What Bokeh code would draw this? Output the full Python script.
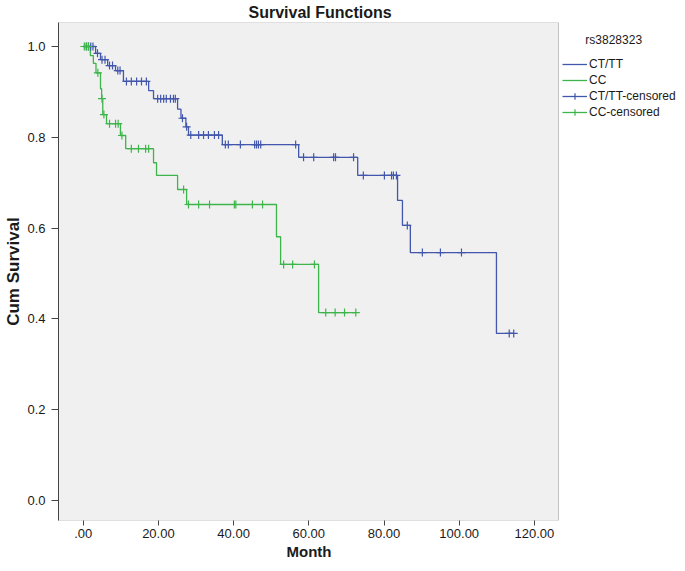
from bokeh.plotting import figure
from bokeh.models import (Range1d, FixedTicker, Legend, LegendItem,
                          BoxAnnotation, Title)
from bokeh.embed import file_html
from bokeh.resources import INLINE

# ---------------- data ----------------
blue_t = [0, 3.3, 4.6, 6.5, 8.6, 10.7, 17.4, 18.7, 25.1, 26.0, 27.3, 28.0,
          37.0, 57.3, 73.0, 83.6, 84.9, 87.0, 109.9, 114.5]
blue_s = [1.0, 0.985, 0.971, 0.958, 0.947, 0.923, 0.903, 0.885, 0.862, 0.842,
          0.823, 0.805, 0.784, 0.756, 0.716, 0.661, 0.606, 0.546, 0.368, 0.368]

blue_cens_t = [0.8, 1.4, 2.0, 2.6, 3.8, 5.0, 5.8, 7.0, 7.8, 9.2, 9.8,
               11.5, 12.8, 14.2, 15.5, 16.8,
               19.8, 20.6, 21.4, 22.1, 23.2, 24.0, 24.5,
               26.4, 27.5,
               28.6, 30.7, 32.0, 33.3, 34.9, 36.0,
               37.8, 38.6, 41.8, 45.6, 46.1, 46.6, 47.2, 56.5,
               58.6, 61.3, 66.6, 67.1, 71.9,
               74.5, 80.1, 82.0, 82.5, 83.3,
               86.2, 90.2, 95.0, 100.6, 113.3, 114.5]
blue_cens_s = [1.0, 1.0, 1.0, 1.0, 0.985, 0.971, 0.971, 0.958, 0.958, 0.947, 0.947,
               0.923, 0.923, 0.923, 0.923, 0.923,
               0.885, 0.885, 0.885, 0.885, 0.885, 0.885, 0.885,
               0.842, 0.823,
               0.805, 0.805, 0.805, 0.805, 0.805, 0.805,
               0.784, 0.784, 0.784, 0.784, 0.784, 0.784, 0.784, 0.784,
               0.756, 0.756, 0.756, 0.756, 0.756,
               0.716, 0.716, 0.716, 0.716, 0.716,
               0.606, 0.546, 0.546, 0.546, 0.368, 0.368]

green_t = [0, 1.9, 2.7, 3.4, 4.6, 4.9, 5.2, 6.2, 9.9, 11.3, 18.7, 19.5,
           25.1, 27.5, 51.4, 52.5, 62.6, 72.5]
green_s = [1.0, 0.980, 0.963, 0.942, 0.907, 0.885, 0.850, 0.830, 0.804, 0.775,
           0.744, 0.716, 0.685, 0.652, 0.581, 0.520, 0.414, 0.414]

green_cens_t = [0.3, 0.9, 1.4, 3.9, 5.0, 5.5, 7.0, 8.6, 9.3, 10.3,
                12.8, 14.7, 16.6, 17.4, 26.7,
                28.0, 30.7, 33.6, 40.2, 40.6, 45.0, 47.7,
                53.3, 55.7, 61.5, 64.5, 67.0, 69.5, 72.5]
green_cens_s = [1.0, 1.0, 1.0, 0.942, 0.885, 0.850, 0.830, 0.830, 0.830, 0.804,
                0.775, 0.775, 0.775, 0.775, 0.685,
                0.652, 0.652, 0.652, 0.652, 0.652, 0.652, 0.652,
                0.520, 0.520, 0.520, 0.414, 0.414, 0.414, 0.414]

x_ticks = [0, 20, 40, 60, 80, 100, 120]
x_tick_labels = [".00", "20.00", "40.00", "60.00", "80.00", "100.00", "120.00"]
y_ticks = [0.0, 0.2, 0.4, 0.6, 0.8, 1.0]
y_tick_labels = ["0.0", "0.2", "0.4", "0.6", "0.8", "1.0"]

series_names = ["CT/TT", "CC", "CT/TT-censored", "CC-censored"]
legend_title = "rs3828323"
title_text = "Survival Functions"
x_label = "Month"
y_label = "Cum Survival"

BLUE = "#4256AC"
GREEN = "#3DB54A"
FONT = "Liberation Sans"
TXT = "#1a1a1a"
AX = "#444444"

# plotting-area box (axis extent) and full frame extent
X_LO, X_BOX_HI, X_FRAME_HI = -6.57, 126.4, 158.05
Y_LO, Y_HI = -0.0441, 1.0529

# ---------------- figure ----------------
p = figure(width=677, height=563, output_backend="svg", toolbar_location=None,
           x_range=Range1d(X_LO, X_FRAME_HI), y_range=Range1d(Y_LO, Y_HI),
           min_border_left=58, min_border_right=0, min_border_top=22,
           min_border_bottom=43)

p.background_fill_color = "white"
p.border_fill_color = "white"
p.outline_line_color = None
p.grid.visible = False

# grey plotting box with dark border, drawn beneath the curves
p.add_layout(BoxAnnotation(left=X_LO, right=X_BOX_HI, bottom=Y_LO, top=Y_HI,
                           fill_color="#F0F0F0", fill_alpha=1.0,
                           line_color=AX, line_width=1, level="underlay"))

# title
p.title.text = title_text
p.title.align = "left"
p.title.offset = 190
p.title.standoff = 0
p.title.vertical_align = "top"
p.title.text_font = FONT
p.title.text_font_size = "16px"
p.title.text_font_style = "bold"
p.title.text_color = TXT

blue_line = p.step(blue_t, blue_s, mode="after", line_color=BLUE, line_width=1.3)
green_line = p.step(green_t, green_s, mode="after", line_color=GREEN, line_width=1.3)
blue_c = p.scatter(blue_cens_t, blue_cens_s, marker="cross", size=8,
                   line_color=BLUE, line_width=1.2)
green_c = p.scatter(green_cens_t, green_cens_s, marker="cross", size=8,
                    line_color=GREEN, line_width=1.2)

# axes
xa = p.xaxis[0]
xa.ticker = FixedTicker(ticks=x_ticks)
xa.major_label_overrides = {t: l for t, l in zip(x_ticks, x_tick_labels)}
xa.minor_tick_line_color = None
xa.major_tick_out = 5
xa.major_tick_in = 0
xa.major_label_standoff = 3
xa.axis_line_color = None
xa.major_tick_line_color = AX
xa.major_label_text_font = FONT
xa.major_label_text_font_size = "13px"
xa.major_label_text_color = TXT

p.add_layout(Title(text=x_label, align="left", offset=228, standoff=0,
                   text_font=FONT, text_font_size="15px",
                   text_font_style="bold", text_color=TXT), "below")

ya = p.yaxis[0]
ya.ticker = FixedTicker(ticks=y_ticks)
ya.major_label_overrides = {t: l for t, l in zip(y_ticks, y_tick_labels)}
ya.minor_tick_line_color = None
ya.major_tick_out = 7
ya.major_tick_in = 0
ya.major_label_standoff = 6
ya.axis_line_color = AX
ya.major_tick_line_color = AX
ya.major_label_text_font = FONT
ya.major_label_text_font_size = "13px"
ya.major_label_text_color = TXT
ya.axis_label = y_label
ya.axis_label_standoff = 1
ya.axis_label_text_font = FONT
ya.axis_label_text_font_size = "17px"
ya.axis_label_text_font_style = "bold"
ya.axis_label_text_color = TXT

# legend (inside the frame, to the right of the grey box)
legend = Legend(items=[
    LegendItem(label=series_names[0], renderers=[blue_line]),
    LegendItem(label=series_names[1], renderers=[green_line]),
    LegendItem(label=series_names[2], renderers=[blue_line, blue_c]),
    LegendItem(label=series_names[3], renderers=[green_line, green_c]),
], location=(504, 400), padding=0, margin=0, spacing=0,
    title="\u00a0" * 7 + legend_title, title_standoff=9,
    title_text_font=FONT, title_text_font_size="12px",
    title_text_font_style="normal", title_text_color=TXT,
    glyph_width=25, glyph_height=16, label_height=16, label_standoff=2,
    border_line_color=None, background_fill_alpha=0,
    label_text_font=FONT, label_text_font_size="12px", label_text_color=TXT)
p.add_layout(legend)

open("out.html", "w").write(file_html(p, INLINE))
